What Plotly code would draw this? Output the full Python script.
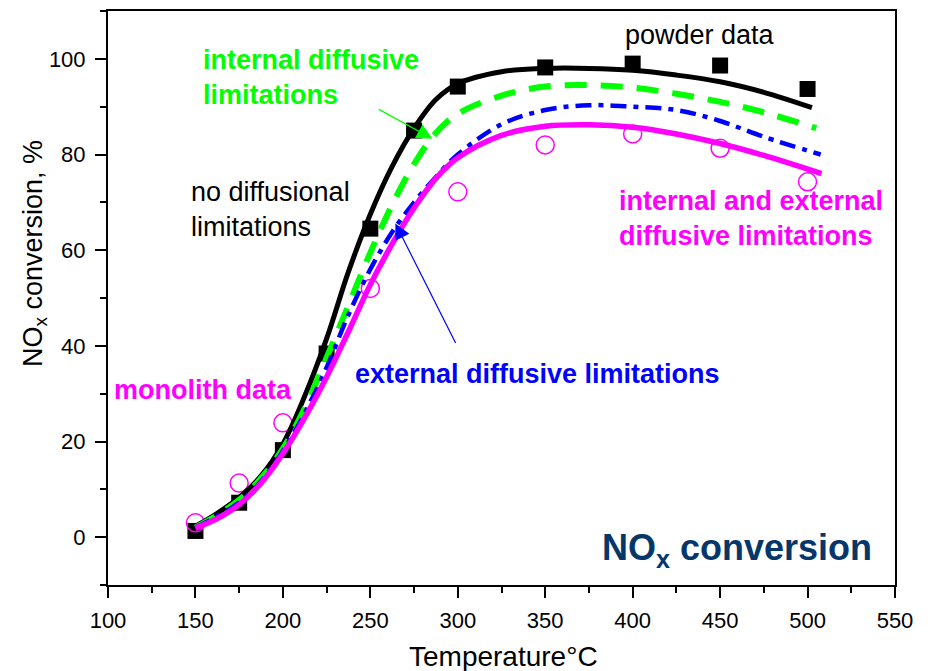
import plotly.graph_objects as go

# Measured NOx conversion, %
powder_T = [150, 175, 200, 225, 250, 275, 300, 350, 400, 450, 500]
powder_conv = [1.3, 7.2, 18.2, 38.4, 64.5, 85.0, 94.2, 98.2, 99.0, 98.6, 93.7]

monolith_T = [150, 175, 200, 250, 300, 350, 400, 450, 500]
monolith_conv = [3.0, 11.3, 23.9, 52.0, 72.2, 82.0, 84.3, 81.3, 74.3]

# Model predictions, %
model_T = [150, 162.5, 175, 187.5, 200, 212.5, 225, 237.5, 250, 262.5,
           275, 287.5, 300, 325, 350, 375, 400, 425, 450, 475]

no_diff_T = model_T + [502.5]
no_diff_conv = [2.3, 5.0, 8.3, 12.8, 19.5, 29.5, 41.5, 55.5, 67.5, 77.5,
                85.5, 91.5, 94.8, 97.3, 98.0, 98.0, 97.6, 96.6, 95.2, 93.0, 89.8]

internal_T = model_T + [505]
internal_conv = [2.0, 4.6, 7.8, 12.3, 18.5, 27.0, 37.5, 48.5, 59.5, 69.5,
                 78.0, 84.5, 88.5, 92.3, 94.2, 94.5, 94.0, 92.7, 91.0, 88.8, 85.5]

external_T = model_T + [507.5]
external_conv = [2.0, 4.4, 7.3, 11.7, 18.0, 26.0, 35.5, 46.5, 56.0, 63.8,
                 70.0, 75.3, 80.0, 86.3, 89.3, 90.3, 90.0, 89.3, 87.0, 83.7, 80.0]

int_ext_T = model_T + [508]
int_ext_conv = [1.9, 3.9, 6.8, 11.3, 17.5, 25.0, 33.5, 43.0, 52.8, 61.3,
                68.8, 75.0, 79.3, 84.0, 85.9, 86.2, 85.7, 84.3, 82.3, 79.8, 76.0]

FONT = "Liberation Sans, Arial, sans-serif"
GREEN = "#00ff00"
BLUE = "#0000ff"
MAGENTA = "#ff00ff"
NAVY = "#06376b"

fig = go.Figure()

# data points (drawn below the model curves)
fig.add_trace(go.Scatter(
    x=powder_T, y=powder_conv, mode="markers",
    marker=dict(symbol="square", size=16, color="black"),
    name="powder data"))
fig.add_trace(go.Scatter(
    x=monolith_T, y=monolith_conv, mode="markers",
    marker=dict(symbol="circle-open", size=18, color=MAGENTA,
                line=dict(width=1.5, color=MAGENTA)),
    name="monolith data"))

# model curves
fig.add_trace(go.Scatter(
    x=no_diff_T, y=no_diff_conv, mode="lines", line_shape="spline",
    line=dict(color="black", width=5), name="no diffusional limitations"))
fig.add_trace(go.Scatter(
    x=internal_T, y=internal_conv, mode="lines", line_shape="spline",
    line=dict(color=GREEN, width=6, dash="22px,14px"),
    name="internal diffusive limitations"))
fig.add_trace(go.Scatter(
    x=external_T, y=external_conv, mode="lines", line_shape="spline",
    line=dict(color=BLUE, width=4.5, dash="16px,7px,5px,7px"),
    name="external diffusive limitations"))
fig.add_trace(go.Scatter(
    x=int_ext_T, y=int_ext_conv, mode="lines", line_shape="spline",
    line=dict(color=MAGENTA, width=5.5),
    name="internal and external diffusive limitations"))

labels = [
    dict(text="internal diffusive<br>limitations", x=153, y=96.2,
         color=GREEN, bold=True, size=27, xanchor="left"),
    dict(text="no diffusional<br>limitations", x=146.5, y=68.5,
         color="black", bold=False, size=27, xanchor="left"),
    dict(text="powder data", x=394.5, y=104.9,
         color="black", bold=False, size=27, xanchor="left"),
    dict(text="internal and external<br>diffusive limitations", x=391, y=66.6,
         color=MAGENTA, bold=True, size=27, xanchor="left"),
    dict(text="monolith data", x=102, y=30.8,
         color=MAGENTA, bold=True, size=27, xanchor="left"),
    dict(text="external diffusive limitations", x=240, y=34.1,
         color=BLUE, bold=True, size=27, xanchor="left"),
    dict(text="NO<sub>x</sub> conversion", x=538, y=-2.6,
         color=NAVY, bold=True, size=36, xanchor="right"),
]
for lb in labels:
    txt = "<b>%s</b>" % lb["text"] if lb["bold"] else lb["text"]
    fig.add_annotation(x=lb["x"], y=lb["y"], xref="x", yref="y", text=txt,
                       showarrow=False, xanchor=lb["xanchor"], yanchor="middle",
                       align="left",
                       font=dict(family=FONT, size=lb["size"], color=lb["color"]))

# pointer arrows (tip at x, y; tail at ax, ay)
arrows = [
    dict(x=285.5, y=83.3, ax=254.0, ay=89.6, color=GREEN),
    dict(x=264.3, y=65.6, ax=299.2, ay=40.3, color=BLUE),
]
for ar in arrows:
    fig.add_annotation(x=ar["x"], y=ar["y"], ax=ar["ax"], ay=ar["ay"],
                       xref="x", yref="y", axref="x", ayref="y", text="",
                       showarrow=True, arrowhead=2, arrowsize=2.6,
                       arrowwidth=1.2, arrowcolor=ar["color"])

# axis titles
fig.add_annotation(text="Temperature°C", xref="paper", yref="paper",
                   x=0.502, y=-0.125, xanchor="center", yanchor="middle",
                   showarrow=False, font=dict(family=FONT, size=28, color="black"))
fig.add_annotation(text="NO<sub>x</sub> conversion, %", xref="paper", yref="paper",
                   x=-0.093, y=0.578, xanchor="center", yanchor="middle",
                   textangle=-90, showarrow=False,
                   font=dict(family=FONT, size=27, color="black"))

axis_common = dict(
    showline=True, linecolor="black", linewidth=2, mirror=True,
    showgrid=False, zeroline=False, ticks="outside", ticklen=11,
    tickwidth=2, tickcolor="black",
    tickfont=dict(family=FONT, size=22, color="black"),
)
fig.update_xaxes(range=[100, 550], dtick=50, tick0=100, ticklabelstandoff=4,
                 minor=dict(dtick=25, ticks="outside", ticklen=6, tickwidth=2,
                            tickcolor="black"),
                 **axis_common)
fig.update_yaxes(range=[-10, 110], dtick=20, tick0=0, ticklabelstandoff=5,
                 minor=dict(dtick=10, ticks="outside", ticklen=6, tickwidth=2,
                            tickcolor="black"),
                 **axis_common)

fig.update_layout(
    width=928, height=671,
    margin=dict(l=108, r=33, t=9, b=86),
    paper_bgcolor="white", plot_bgcolor="white",
    showlegend=False,
    font=dict(family=FONT),
)

fig.write_html("out.html")
